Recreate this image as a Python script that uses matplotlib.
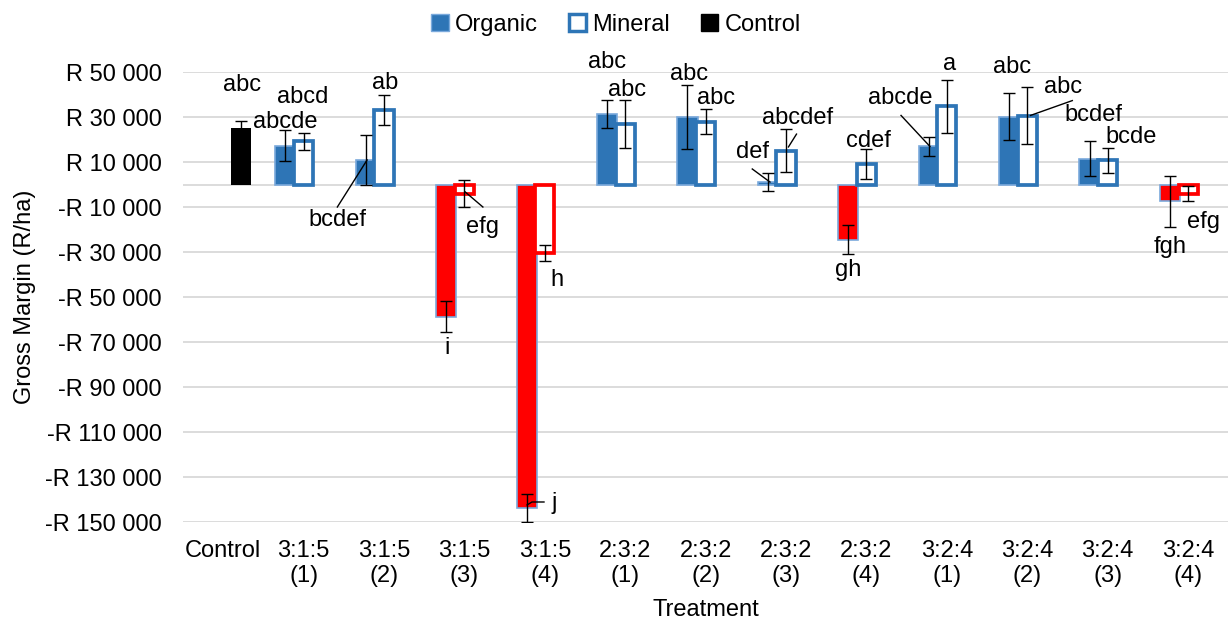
import numpy as np
import matplotlib
matplotlib.use('Agg')
import matplotlib.pyplot as plt
from matplotlib.patches import Patch
from matplotlib.ticker import FuncFormatter

plt.rcParams['font.family'] = ['Liberation Sans', 'DejaVu Sans']

# data
categories = ['Control', '3:1:5\n(1)', '3:1:5\n(2)', '3:1:5\n(3)', '3:1:5\n(4)',
              '2:3:2\n(1)', '2:3:2\n(2)', '2:3:2\n(3)', '2:3:2\n(4)',
              '3:2:4\n(1)', '3:2:4\n(2)', '3:2:4\n(3)', '3:2:4\n(4)']
organic = [np.nan, 17200, 10900, -58700, -143700, 31400, 29900, 1200, -24600,
           16900, 30200, 11400, -7500]
organic_err = [np.nan, 6900, 11000, 6900, 6100, 6200, 14300, 4000, 6500,
               4300, 10600, 7800, 11200]
mineral = [np.nan, 19300, 33000, -4000, -30400, 27000, 28000, 15000, 9000,
           34800, 30500, 10700, -4000]
mineral_err = [np.nan, 3800, 6700, 6100, 3700, 10700, 5400, 9600, 6600,
               11800, 12700, 5700, 3200]
control = 25000
control_err = 3300

# significance letters: (text, x, y) and leader lines
letters = [
    ('abc', 0.24, 44200), ('abcd', 0.995, 38900), ('abcde', 0.77, 27800),
    ('ab', 2.01, 45100), ('bcdef', 1.42, -15800), ('efg', 3.22, -18900),
    ('i', 2.79, -72700), ('h', 4.15, -42400), ('j', 4.12, -141500),
    ('abc', 4.78, 54400), ('abc', 5.02, 42000), ('abc', 5.80, 49100),
    ('abc', 6.13, 38400), ('def', 6.58, 14400), ('abcdef', 7.14, 29600),
    ('cdef', 8.02, 19300), ('gh', 7.77, -38000), ('abcde', 8.42, 38400),
    ('a', 9.03, 53600), ('abc', 9.81, 52200), ('abc', 10.45, 43300),
    ('bcdef', 10.82, 30700), ('bcde', 11.29, 21100), ('fgh', 11.78, -27800),
    ('efg', 12.19, -16700),
]
leaders = [
    [(1.79, 10900), (1.42, -10000)],
    [(3.01, -3300), (3.23, -10000)],
    [(3.78, -142400), (3.84, -141100), (3.99, -141100)],
    [(6.58, 6900), (6.80, 1100)],
    [(7.13, 22400), (7.03, 16700)],
    [(8.43, 30700), (8.79, 16900)],
    [(10.04, 30700), (10.56, 37300)],
]

blue = '#2E75B6'
light = '#7AA9DC'
fs = 17
x = np.arange(len(categories))
slot = 0.226
w = 0.25

fig, ax = plt.subplots(figsize=(12.32, 6.3), dpi=100)
fig.subplots_adjust(left=0.1485, right=0.997, top=0.8857, bottom=0.1714)

org = np.array(organic, dtype=float)
mis = np.array(mineral, dtype=float)
org_colors = ['red' if v < 0 else blue for v in org]
ax.bar(x - slot, org, w, color=org_colors, edgecolor=light, linewidth=1.2, zorder=2)
min_edges = ['red' if v < 0 else blue for v in mis]
ax.bar(x, mis, w * 0.95, color='white', edgecolor=min_edges, linewidth=2.7, zorder=3)
ax.bar([x[0] + slot], [control], w, color='black', zorder=2)

ax.errorbar(x - slot, org, yerr=organic_err, fmt='none', ecolor='black',
            elinewidth=1, capsize=4.5, capthick=1, zorder=4)
ax.errorbar(x, mis, yerr=mineral_err, fmt='none', ecolor='black',
            elinewidth=1, capsize=4.5, capthick=1, zorder=4)
ax.errorbar([x[0] + slot], [control], yerr=[control_err], fmt='none', ecolor='black',
            elinewidth=1, capsize=4.5, capthick=1, zorder=4)

for t, tx, ty in letters:
    ax.text(tx, ty, t, ha='center', va='center', fontsize=fs, zorder=5)
for pts in leaders:
    xs, ys = zip(*pts)
    ax.plot(xs, ys, color='black', lw=1, zorder=5)

ax.set_xlim(-0.5, len(categories) - 0.5)
ax.set_ylim(-150000, 50000)
ax.set_yticks(np.arange(-150000, 50001, 20000))
ax.yaxis.set_major_formatter(FuncFormatter(
    lambda v, p: ('-' if v < 0 else '') + 'R ' + f'{abs(v):,.0f}'.replace(',', ' ')))
ax.grid(axis='y', color='#D9D9D9', lw=1.3, zorder=0)
ax.axhline(0, color='#D9D9D9', lw=1.3, zorder=1)
ax.set_axisbelow(True)
for s in ax.spines.values():
    s.set_visible(False)

ax.set_xticks(x)
ax.set_xticklabels(categories, fontsize=fs, linespacing=1.2)
ax.tick_params(axis='both', length=0, labelsize=fs)
ax.tick_params(axis='y', pad=15)
ax.tick_params(axis='x', pad=13)
ax.set_xlabel('Treatment', fontsize=fs, labelpad=8)
ax.set_ylabel('Gross Margin (R/ha)', fontsize=fs, labelpad=7)

handles = [Patch(facecolor=blue, edgecolor=light, lw=1),
           Patch(facecolor='white', edgecolor=blue, lw=2.5),
           Patch(facecolor='black', edgecolor='black')]
fig.legend(handles, ['Organic', 'Mineral', 'Control'], loc='upper center',
           bbox_to_anchor=(0.5, 1.012), ncol=3, frameon=False, fontsize=fs,
           handlelength=0.75, handleheight=0.75, handletextpad=0.25,
           columnspacing=1.3)

fig.savefig('out.png', dpi=100)
